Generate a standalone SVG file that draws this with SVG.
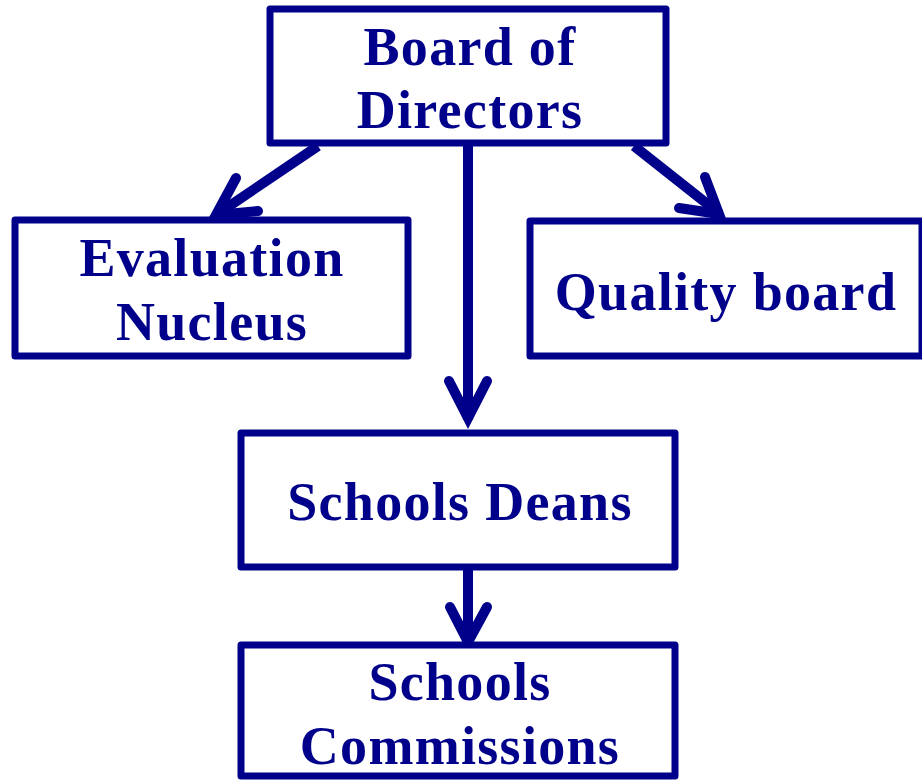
<svg xmlns="http://www.w3.org/2000/svg" width="922" height="780" viewBox="0 0 922 780">
<style>
.box{fill:#fff;stroke:#00008B;stroke-width:7;stroke-linejoin:round}
.t{font-family:"Liberation Serif","Times New Roman",serif;font-weight:bold;font-size:54px;fill:#00008B;text-anchor:middle;letter-spacing:1.3px}
.c{fill:none;stroke:#00008B;stroke-width:10;stroke-linecap:round;stroke-linejoin:miter}
.s{fill:none;stroke:#00008B;stroke-width:10;stroke-linecap:butt}
</style>
<rect width="922" height="780" fill="#fff"/>
<g id="connectors">
<line class="s" x1="318" y1="146" x2="216" y2="215"/>
<path class="c" d="M236,178 L216,215 L258,211"/>
<line class="s" x1="634" y1="146" x2="720" y2="214"/>
<path class="c" d="M705,177 L719,214 L679,208"/>
<line class="s" x1="468" y1="146" x2="468" y2="420"/>
<path class="c" d="M449,381 L468,418 L487,381"/>
<line class="s" x1="468" y1="570" x2="468" y2="644"/>
<path class="c" d="M450,607 L468,642 L487,607"/>
</g>
<g id="board">
<rect class="box" x="270" y="9" width="396" height="134"/>
<text class="t" x="470" y="65">Board of</text>
<text class="t" x="470" y="128">Directors</text>
</g>
<g id="evaluation">
<rect class="box" x="15" y="220" width="393" height="136"/>
<text class="t" x="212" y="276">Evaluation</text>
<text class="t" x="212" y="340">Nucleus</text>
</g>
<g id="quality">
<rect class="box" x="530" y="221" width="392" height="135"/>
<text class="t" x="726" y="310">Quality board</text>
</g>
<g id="deans">
<rect class="box" x="241" y="433" width="434" height="134"/>
<text class="t" x="460" y="520">Schools Deans</text>
</g>
<g id="commissions">
<rect class="box" x="241" y="645" width="434" height="131"/>
<text class="t" x="460" y="700">Schools</text>
<text class="t" x="460" y="764">Commissions</text>
</g>
</svg>
